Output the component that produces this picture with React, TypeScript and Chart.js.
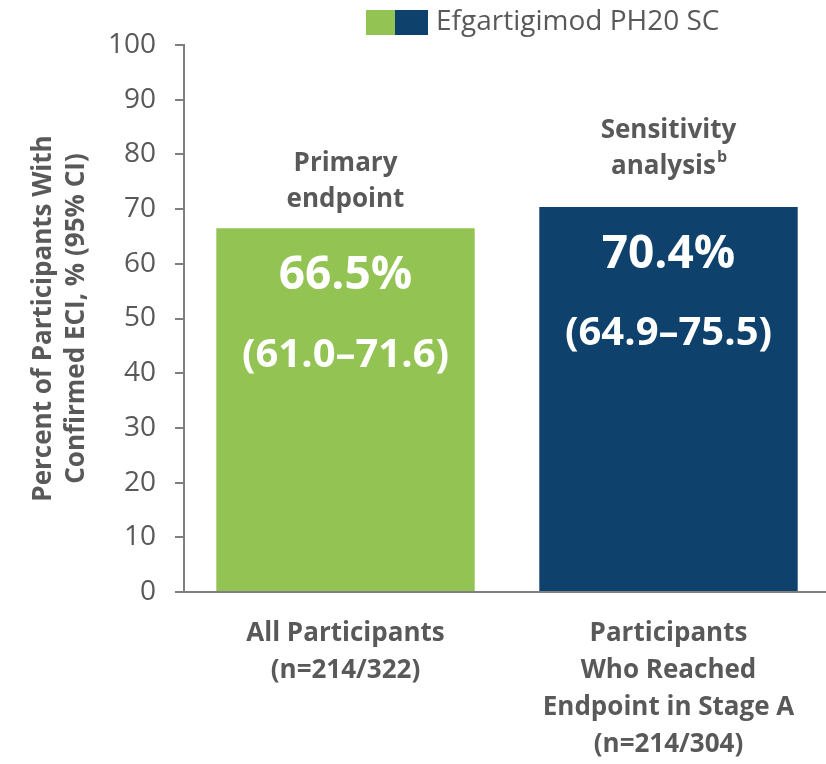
import React, { useEffect, useRef } from "react";
import { Chart, registerables } from "chart.js";

Chart.register(...registerables);

const categories: string[][] = [
  ["All Participants", "(n=214/322)"],
  ["Participants", "Who Reached", "Endpoint in Stage A", "(n=214/304)"],
];
const values: number[] = [66.5, 70.4];
const valueLabels: string[] = ["66.5%", "70.4%"];
const ciLabels: string[] = ["(61.0–71.6)", "(64.9–75.5)"];
const analysisLabels: string[][] = [
  ["Primary", "endpoint"],
  ["Sensitivity", "analysis"],
];
const analysisSup: string[] = ["", "b"];
const barColors: string[] = ["#92C353", "#0E416C"];
const legendLabel = "Efgartigimod PH20 SC";
const yTitle: string[] = ["Percent of Participants With", "Confirmed ECI, % (95% CI)"];
const yTicks: number[] = [0, 10, 20, 30, 40, 50, 60, 70, 80, 90, 100];

const FONT = "'Open Sans', sans-serif";
const GRAY = "#595959";
const AXIS = "#7F7F7F";
// vertical gap (px) between bar top and the annotation lines above it
const annotGap: number[] = [65, 76];

const annotPlugin = {
  id: "annot",
  afterDraw(chart: any) {
    const ctx = chart.ctx as CanvasRenderingContext2D;
    const meta = chart.getDatasetMeta(0);
    const area = chart.chartArea;
    ctx.save();
    // legend
    ctx.fillStyle = barColors[0];
    ctx.fillRect(366, 10, 29, 25);
    ctx.fillStyle = barColors[1];
    ctx.fillRect(395, 10, 33, 25);
    ctx.fillStyle = GRAY;
    ctx.font = `28px ${FONT}`;
    ctx.textAlign = "left";
    ctx.textBaseline = "middle";
    ctx.fillText(legendLabel, 436, 22);

    // y title
    ctx.save();
    const cy = (area.top + area.bottom) / 2;
    ctx.translate(0, cy);
    ctx.rotate(-Math.PI / 2);
    ctx.font = `bold 26px ${FONT}`;
    ctx.textAlign = "center";
    ctx.textBaseline = "middle";
    ctx.fillStyle = GRAY;
    ctx.fillText(yTitle[0], 0, 44);
    ctx.fillText(yTitle[1], 0, 77);
    ctx.restore();

    meta.data.forEach((bar: any, i: number) => {
      const x = bar.x;
      const top = bar.y;
      ctx.textAlign = "center";
      ctx.textBaseline = "middle";
      ctx.fillStyle = "#FFFFFF";
      ctx.font = `bold 46px ${FONT}`;
      ctx.fillText(valueLabels[i], x, top + 48);
      ctx.font = `bold 40px ${FONT}`;
      ctx.fillText(ciLabels[i], x, top + 127);

      ctx.fillStyle = GRAY;
      ctx.font = `bold 26px ${FONT}`;
      const lines = analysisLabels[i];
      const l1y = top - annotGap[i];
      const l2y = l1y + 36;
      ctx.fillText(lines[0], x, l1y);
      if (analysisSup[i]) {
        const w = ctx.measureText(lines[1]).width;
        ctx.font = `bold 16px ${FONT}`;
        const sw = ctx.measureText(analysisSup[i]).width;
        ctx.font = `bold 26px ${FONT}`;
        const startX = x - (w + sw) / 2;
        ctx.textAlign = "left";
        ctx.fillText(lines[1], startX, l2y);
        ctx.font = `bold 16px ${FONT}`;
        ctx.fillText(analysisSup[i], startX + w + 1, l2y - 9);
        ctx.textAlign = "center";
      } else {
        ctx.fillText(lines[1], x, l2y);
      }
    });
    ctx.restore();
  },
};

export default function App() {
  const ref = useRef<HTMLCanvasElement>(null);
  useEffect(() => {
    document.body.style.margin = "0";
    const chart = new Chart(ref.current!, {
      type: "bar",
      data: {
        labels: categories,
        datasets: [
          {
            label: legendLabel,
            data: values,
            backgroundColor: barColors,
            barPercentage: 0.8,
            categoryPercentage: 1,
          },
        ],
      },
      options: {
        animation: false,
        responsive: false,
        maintainAspectRatio: false,
        layout: { padding: { top: 45, right: 0, left: 0, bottom: 0 } },
        plugins: {
          legend: { display: false },
          tooltip: { enabled: false },
        },
        scales: {
          x: {
            grid: { display: false, drawTicks: false },
            border: { display: true, color: AXIS, width: 2 },
            ticks: {
              color: GRAY,
              font: { family: FONT, size: 26, weight: "bold", lineHeight: 1.42 },
              padding: 23,
              maxRotation: 0,
              autoSkip: false,
            },
            afterFit(scale: any) {
              scale.height = 172;
            },
          },
          y: {
            min: 0,
            max: 100,
            afterBuildTicks(scale: any) {
              scale.ticks = yTicks.map((v) => ({ value: v }));
            },
            grid: {
              display: true,
              drawOnChartArea: false,
              drawTicks: true,
              tickLength: 9,
              color: AXIS,
              lineWidth: 2,
            },
            border: { display: true, color: AXIS, width: 2 },
            ticks: {
              color: GRAY,
              font: { family: FONT, size: 28 },
              padding: 19,
            },
            afterFit(scale: any) {
              scale.width = 184;
            },
          },
        },
      },
      plugins: [annotPlugin],
    });
    return () => chart.destroy();
  }, []);
  return (
    <div style={{ width: 826, height: 764, overflow: "hidden" }}>
      <canvas ref={ref} width={830} height={764} style={{ display: "block" }} />
    </div>
  );
}
